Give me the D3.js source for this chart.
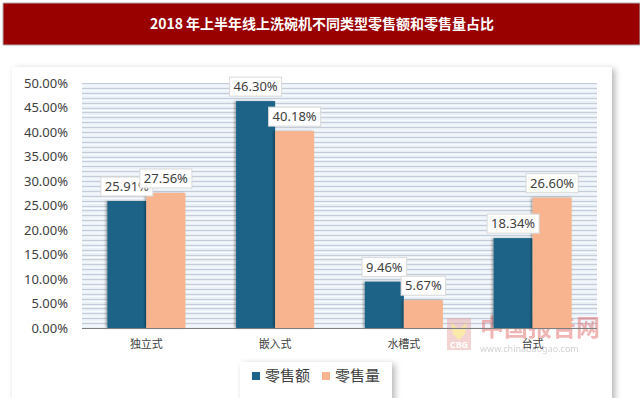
<!DOCTYPE html>
<html>
<head>
<meta charset="utf-8">
<script src="https://cdn.jsdelivr.net/npm/d3@7"></script>
<style>
  body { margin: 0; background: #fff; }
  svg { display: block; font-family: "Noto Sans", "Noto Sans CJK SC", sans-serif; }
</style>
</head>
<body>
<div id="chart"></div>
<script>
var title = "2018 年上半年线上洗碗机不同类型零售额和零售量占比";
var categories = ["独立式", "嵌入式", "水槽式", "台式"];
var seriesNames = ["零售额", "零售量"];
var salesValue = [25.91, 46.30, 9.46, 18.34];
var salesVolume = [27.56, 40.18, 5.67, 26.60];
var yTicks = [0, 5, 10, 15, 20, 25, 30, 35, 40, 45, 50];
var colors = ["#1b6387", "#f8b48e"];

var width = 640, height = 398;
var plot = { left: 82, right: 597, top: 83, bottom: 328 };

var svg = d3.select("#chart").append("svg")
    .attr("width", width)
    .attr("height", height);

var defs = svg.append("defs");
var sh = defs.append("filter").attr("id", "panelShadow")
    .attr("x", "-10%").attr("y", "-10%").attr("width", "120%").attr("height", "120%");
sh.append("feDropShadow").attr("dx", 3).attr("dy", 2).attr("stdDeviation", 3)
    .attr("flood-color", "#000").attr("flood-opacity", 0.28);
var bs = defs.append("filter").attr("id", "barShadow")
    .attr("x", "-20%").attr("y", "-5%").attr("width", "140%").attr("height", "110%");
bs.append("feDropShadow").attr("dx", -1.5).attr("dy", 0).attr("stdDeviation", 0.8)
    .attr("flood-color", "#000").attr("flood-opacity", 0.35);

// title banner
svg.append("rect").attr("x", 3).attr("y", 3).attr("width", 637).attr("height", 42)
    .attr("fill", "#990000").attr("stroke", "#b0b0b0").attr("stroke-width", 1);
svg.append("text")
    .attr("x", 322).attr("y", 29)
    .attr("text-anchor", "middle")
    .attr("fill", "#fff")
    .style("font-family", "'Noto Sans CJK SC', sans-serif")
    .style("font-size", "14px")
    .style("font-weight", "bold")
    .text(title);

// chart panel
svg.append("rect").attr("x", 12).attr("y", 67).attr("width", 600).attr("height", 345)
    .attr("fill", "#fff").attr("filter", "url(#panelShadow)");

var x0 = d3.scaleBand().domain(categories).range([plot.left, plot.right]).paddingInner(0.394).paddingOuter(0.197);
var x1 = d3.scaleBand().domain(seriesNames).range([0, x0.bandwidth()]);
var y = d3.scaleLinear().domain([0, 50]).range([plot.bottom, plot.top]);

// striped plot background
svg.append("rect").attr("x", plot.left).attr("y", plot.top)
    .attr("width", plot.right - plot.left).attr("height", plot.bottom - plot.top)
    .attr("fill", "#e8eff6");
var fine = d3.range(0, 50, 1);
svg.append("g").selectAll("line.w").data(fine).join("line")
    .attr("x1", plot.left).attr("x2", plot.right)
    .attr("y1", d => y(d + 0.5) + 0.5).attr("y2", d => y(d + 0.5) + 0.5)
    .attr("stroke", "#fbfdff").attr("stroke-width", 1);
svg.append("g").selectAll("line.g").data(fine.concat([50])).join("line")
    .attr("x1", plot.left).attr("x2", plot.right)
    .attr("y1", d => Math.round(y(d)) + 0.5).attr("y2", d => Math.round(y(d)) + 0.5)
    .attr("stroke", "#c5ced8").attr("stroke-width", 1);

// y axis labels
var yAxis = svg.append("g")
    .attr("transform", `translate(${plot.left - 14},0)`)
    .call(d3.axisLeft(y).tickValues(yTicks).tickSize(0).tickFormat(d => d.toFixed(2) + "%"));
yAxis.select(".domain").remove();
yAxis.selectAll("text")
    .attr("x", 0)
    .style("font-family", "'Noto Sans', sans-serif")
    .style("font-size", "13px")
    .style("fill", "#404040");

// watermark
var wm = svg.append("g").attr("opacity", 0.45);
wm.append("rect").attr("x", 447).attr("y", 318).attr("width", 24).attr("height", 32).attr("fill", "#e8a0a0");
wm.append("path").attr("d", "M451,322 L459,330 L467,322 L465,334 L459,340 L453,334 Z").attr("fill", "#f5d040");
wm.append("text").attr("x", 459).attr("y", 348).attr("text-anchor", "middle")
    .attr("fill", "#fff").style("font-size", "9px").style("font-weight", "bold").text("CBG");
wm.append("text").attr("x", 480).attr("y", 336)
    .attr("fill", "#e06060")
    .style("font-family", "'Noto Sans CJK SC', sans-serif")
    .style("font-size", "24px").style("font-weight", "bold")
    .text("中国报告网");
wm.append("text").attr("x", 480).attr("y", 352)
    .attr("fill", "#999")
    .style("font-size", "9px")
    .text("www.chinabaogao.com");

// bars
var rows = categories.map((c, i) => ({ cat: c, vals: [salesValue[i], salesVolume[i]] }));
var groups = svg.append("g").selectAll("g").data(rows).join("g")
    .attr("transform", d => `translate(${x0(d.cat)},0)`);
groups.selectAll("rect").data(d => d.vals.map((v, j) => ({ key: seriesNames[j], v: v, j: j }))).join("rect")
    .attr("x", d => x1(d.key))
    .attr("y", d => y(d.v))
    .attr("width", x1.bandwidth())
    .attr("height", d => plot.bottom - y(d.v))
    .attr("fill", d => colors[d.j])
    .attr("filter", "url(#barShadow)");

// x axis
svg.append("line").attr("x1", plot.left).attr("x2", plot.right)
    .attr("y1", plot.bottom + 0.5).attr("y2", plot.bottom + 0.5)
    .attr("stroke", "#7f7f7f").attr("stroke-width", 1);
svg.append("g").selectAll("text").data(categories).join("text")
    .attr("x", d => x0(d) + x0.bandwidth() / 2)
    .attr("y", 348)
    .attr("text-anchor", "middle")
    .style("font-family", "'Noto Sans CJK SC', sans-serif")
    .style("font-size", "11px")
    .style("fill", "#404040")
    .text(d => d);

// data labels
groups.each(function(d) {
    var g = d3.select(this);
    d.vals.forEach((v, j) => {
        var cx = x1(seriesNames[j]) + x1.bandwidth() / 2;
        var lab = g.append("g").attr("transform", `translate(${cx},${y(v) - 5})`);
        var t = lab.append("text")
            .attr("text-anchor", "middle")
            .attr("y", -5)
            .style("font-family", "'Noto Sans', sans-serif")
            .style("font-size", "13px")
            .style("fill", "#404040")
            .text(v.toFixed(2) + "%");
        var w = t.node().getComputedTextLength() + 8;
        lab.insert("rect", "text")
            .attr("x", -w / 2).attr("y", -19)
            .attr("width", w).attr("height", 19)
            .attr("fill", "#fff").attr("stroke", "#d9d9d9").attr("stroke-width", 1);
    });
});

// legend
var legend = svg.append("g").attr("transform", "translate(240,362)");
legend.append("rect").attr("width", 152).attr("height", 40)
    .attr("fill", "#fff").attr("filter", "url(#panelShadow)");
seriesNames.forEach((n, i) => {
    var lx = 12 + i * 70;
    legend.append("rect").attr("x", lx).attr("y", 10).attr("width", 8).attr("height", 8).attr("fill", colors[i]);
    legend.append("text").attr("x", lx + 13).attr("y", 19)
        .style("font-family", "'Noto Sans CJK SC', sans-serif")
        .style("font-size", "15px")
        .style("fill", "#404040")
        .text(n);
});
</script>
</body>
</html>
